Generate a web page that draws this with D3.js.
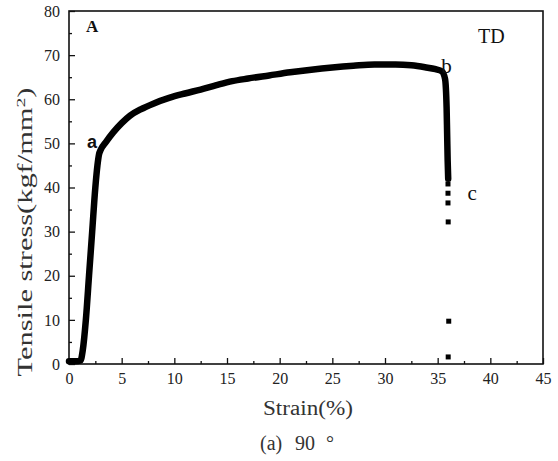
<!DOCTYPE html>
<html><head><meta charset="utf-8">
<script src="https://cdn.jsdelivr.net/npm/d3@7"></script>
<style>body{margin:0;background:#fff}svg{display:block}</style>
</head><body><svg id="c" width="558" height="461"></svg>
<script>
const strain = [0,0.6,1.1,1.3,1.6,1.9,2.2,2.5,2.7,2.85,3.0,3.5,4.2,5.0,5.8,6.8,8,9.5,11,12.5,14,15.5,17,19,21,23,25,27,29,31,32.5,33.8,34.8,35.4,35.7,35.85,35.9,35.95,36.0];
const stress = [0.6,0.6,0.8,3,10,20,30,40,45,47.5,48.5,50.3,52.5,54.6,56.3,57.7,59,60.3,61.3,62.2,63.2,64.1,64.7,65.4,66.1,66.7,67.2,67.6,67.9,67.9,67.7,67.25,66.8,66.3,64.6,58,52,46,42];
const dotStrain = [35.98,35.98,35.98,36.0,36.05,36.0];
const dotStress = [40.8,38.7,36.5,32.2,9.7,1.6];
const xTicks = [0,5,10,15,20,25,30,35,40,45];
const yTicks = [0,10,20,30,40,50,60,70,80];
const pointLabels = [
  {t:"b",x:35.85,y:65.95,font:"Liberation Serif",weight:"normal",size:21},
  {t:"c",x:38.27,y:37.17,font:"Liberation Serif",weight:"normal",size:21},
  {t:"a",x:2.18,y:48.95,font:"Liberation Sans",weight:"bold",size:18}
];

const svg = d3.select("#c");
const x = d3.scaleLinear().domain([0,45]).range([69,543]);
const y = d3.scaleLinear().domain([0,80]).range([364,11]);
const SERIF = "Liberation Serif";

// frame
svg.append("rect").attr("x",69).attr("y",11).attr("width",474).attr("height",353)
  .attr("fill","none").attr("stroke","#111").attr("stroke-width",1.6);

// ticks (inward)
function axis(g){ g.attr("font-family",SERIF).attr("font-size",16); g.select(".domain").remove(); }
svg.append("g").attr("transform","translate(0,364)")
  .call(d3.axisBottom(x).tickValues(xTicks).tickSize(-6).tickPadding(9).tickFormat(d3.format("d"))).call(axis);
svg.append("g").attr("transform","translate(0,364)")
  .call(d3.axisBottom(x).tickValues(d3.range(2.5,45,5)).tickSize(-3).tickFormat("")).call(axis);
svg.append("g").attr("transform","translate(69,0)")
  .call(d3.axisLeft(y).tickValues(yTicks).tickSize(-6).tickPadding(9).tickFormat(d3.format("d"))).call(axis);
svg.append("g").attr("transform","translate(69,0)")
  .call(d3.axisLeft(y).tickValues(d3.range(5,80,10)).tickSize(-3).tickFormat("")).call(axis);
svg.selectAll(".tick line").attr("stroke","#111").attr("stroke-width",1.3);
svg.selectAll(".tick text").attr("fill","#222");

// curve
const pts = strain.map((s,i)=>[s,stress[i]]);
svg.append("path").datum(pts)
  .attr("d", d3.line().x(d=>x(d[0])).y(d=>y(d[1])).curve(d3.curveMonotoneX))
  .attr("fill","none").attr("stroke","#000").attr("stroke-width",6.5).attr("stroke-linejoin","round").attr("stroke-linecap","round");
// fracture fragments
svg.selectAll(".dot").data(dotStrain.map((s,i)=>[s,dotStress[i]])).enter().append("rect")
  .attr("x",d=>x(d[0])-2.5).attr("y",d=>y(d[1])-2.5).attr("width",5).attr("height",5).attr("fill","#000");

// labels
svg.selectAll(".pl").data(pointLabels).enter().append("text")
  .attr("x",d=>x(d.x)).attr("y",d=>y(d.y)).text(d=>d.t)
  .attr("font-family",d=>d.font).attr("font-size",d=>d.size).attr("font-weight",d=>d.weight)
  .attr("text-anchor","middle").attr("fill","#111");
svg.append("text").attr("x",86).attr("y",32).text("A").attr("font-family",SERIF)
  .attr("font-size",17).attr("font-weight","bold").attr("fill","#111");
svg.append("text").attr("x",478).attr("y",43).text("TD").attr("font-family",SERIF)
  .attr("font-size",20).attr("fill","#111");

svg.append("text").attr("transform","translate(32,232) rotate(-90)").attr("text-anchor","middle")
  .attr("font-family",SERIF).attr("font-size",20).attr("fill","#333")
  .attr("textLength",289).attr("lengthAdjust","spacingAndGlyphs")
  .html('Tensile stress(kgf/mm<tspan dy="-7" font-size="13">2</tspan><tspan dy="7">)</tspan>');
svg.append("text").attr("x",308).attr("y",415).attr("text-anchor","middle")
  .attr("font-family",SERIF).attr("font-size",20).attr("fill","#333")
  .attr("textLength",90).attr("lengthAdjust","spacingAndGlyphs").text("Strain(%)");
const cap = svg.append("text").attr("y",450).attr("font-family",SERIF).attr("font-size",20).attr("fill","#333");
cap.append("tspan").attr("x",260).text("(a)");
cap.append("tspan").attr("x",295).text("90");
cap.append("tspan").attr("x",326).text("°");
</script></body></html>
